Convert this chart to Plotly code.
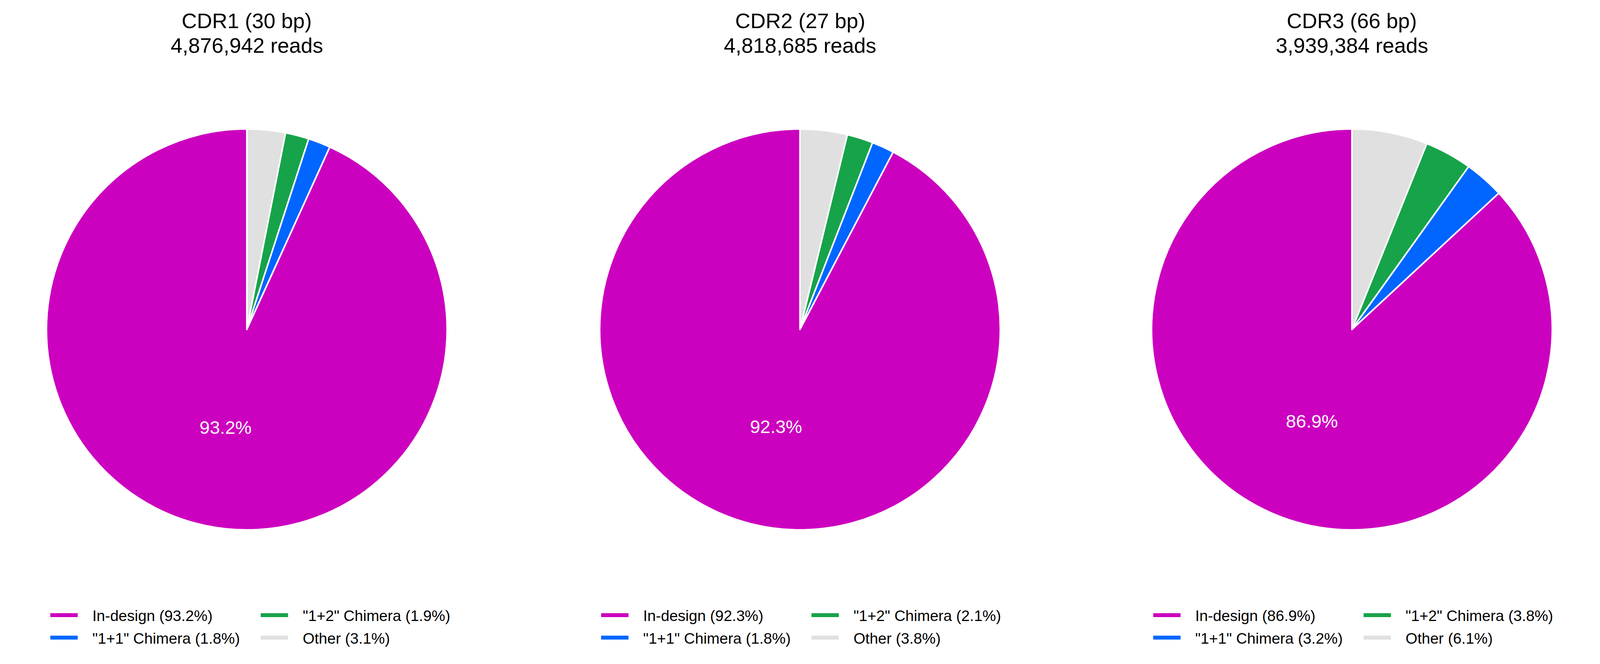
import plotly.graph_objects as go

regions = ['CDR1', 'CDR2', 'CDR3']
lengths_bp = [30, 27, 66]
read_counts = [4876942, 4818685, 3939384]

categories = ['In-design', '"1+1" Chimera', '"1+2" Chimera', 'Other']
colors = ['#cc00bf', '#0066ff', '#17a34a', '#e0e0e0']

# percentages per region, same order as categories
pct_cdr1 = [93.2, 1.8, 1.9, 3.1]
pct_cdr2 = [92.3, 1.8, 2.1, 3.8]
pct_cdr3 = [86.9, 3.2, 3.8, 6.1]
percentages = [pct_cdr1, pct_cdr2, pct_cdr3]

FONT = 'Liberation Sans, Arial, Helvetica, sans-serif'
GAP = '\u00a0' * 3  # room between legend swatch and its text

pie_domains_x = [[0.0272, 0.2786], [0.3743, 0.6257], [0.7206, 0.9720]]
pie_domain_y = [0.1991, 0.8087]
title_x = [(d[0] + d[1]) / 2 for d in pie_domains_x]
panel_shift = [0.0, 0.3456, 0.6920]
legend_cols_x = [0.0284, 0.1604]

fig = go.Figure()

for i, pcts in enumerate(percentages):
    # slices run clockwise from 12 o'clock: Other, "1+2", "1+1", In-design
    fig.add_trace(go.Pie(
        labels=categories[::-1],
        values=pcts[::-1],
        sort=False,
        direction='clockwise',
        rotation=0,
        marker=dict(colors=colors[::-1], line=dict(color='white', width=4)),
        texttemplate='%{percent:.1%}',
        textposition=['none', 'none', 'none', 'inside'],
        insidetextorientation='horizontal',
        textfont=dict(family=FONT, size=47, color='white'),
        domain=dict(x=pie_domains_x[i], y=pie_domain_y),
        showlegend=False,
        hoverinfo='label+percent',
    ))

    # legend: two columns per panel, filled column by column
    for j, (cat, col, p) in enumerate(zip(categories, colors, pcts)):
        n = 2 * i + j // 2 + 1
        fig.add_trace(go.Scatter(
            x=[None], y=[None], mode='lines',
            line=dict(color=col, width=23),
            name=f'{GAP}{cat} ({p}%)',
            legend='legend' if n == 1 else f'legend{n}',
            legendgroup=f'{regions[i]}-{cat}',
            hoverinfo='skip',
        ))

    fig.add_annotation(x=title_x[i], y=0.9735, xref='paper', yref='paper',
                       text=f'{regions[i]} ({lengths_bp[i]} bp)', showarrow=False,
                       xanchor='center', yanchor='middle',
                       font=dict(family=FONT, size=54, color='black'))
    fig.add_annotation(x=title_x[i], y=0.9358, xref='paper', yref='paper',
                       text=f'{read_counts[i]:,} reads', showarrow=False,
                       xanchor='center', yanchor='middle',
                       font=dict(family=FONT, size=54, color='black'))

legend_style = dict(orientation='v', xanchor='left', yanchor='top', y=0.0885,
                    bgcolor='rgba(0,0,0,0)', itemwidth=70, tracegroupgap=4,
                    font=dict(family=FONT, size=39, color='black'))
legends = {}
for i in range(3):
    for c in range(2):
        n = 2 * i + c + 1
        key = 'legend' if n == 1 else f'legend{n}'
        legends[key] = dict(legend_style, x=panel_shift[i] + legend_cols_x[c])

fig.update_layout(
    autosize=True,
    margin=dict(l=0, r=0, t=0, b=0),
    paper_bgcolor='white', plot_bgcolor='white',
    xaxis=dict(visible=False), yaxis=dict(visible=False),
    showlegend=True,
    **legends,
)

fig.write_html('out.html')
